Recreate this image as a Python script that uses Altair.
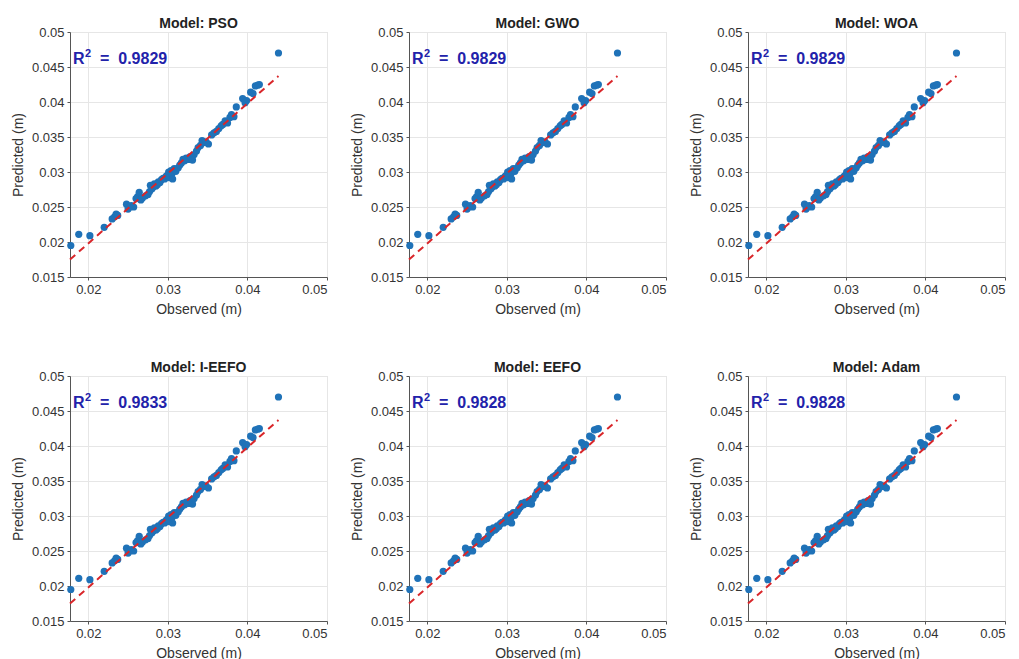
import altair as alt
import pandas as pd

models = ["PSO", "GWO", "WOA", "I-EEFO", "EEFO", "Adam"]
r2_values = [0.9829, 0.9829, 0.9829, 0.9833, 0.9828, 0.9828]

observed = [
    0.0178, 0.0188, 0.0202, 0.0220, 0.0230, 0.0233, 0.0235, 0.0237, 0.0248, 0.0250,
    0.0252, 0.0254, 0.0257, 0.0260, 0.0262, 0.0264, 0.0266, 0.0268, 0.0272, 0.0275,
    0.0277, 0.0278, 0.0280, 0.0282, 0.0283, 0.0285, 0.0287, 0.0288, 0.0290, 0.0292,
    0.0294, 0.0296, 0.0298, 0.0300, 0.0301, 0.0302, 0.0304, 0.0305, 0.0306, 0.0308,
    0.0310, 0.0313, 0.0315, 0.0317, 0.0319, 0.0321, 0.0323, 0.0326, 0.0328, 0.0331,
    0.0333, 0.0336, 0.0338, 0.0341, 0.0343, 0.0345, 0.0348, 0.0351, 0.0355, 0.0358,
    0.0361, 0.0364, 0.0367, 0.0369, 0.0372, 0.0375, 0.0378, 0.0380, 0.0383, 0.0386,
    0.0394, 0.0397, 0.0399, 0.0404, 0.0407, 0.0410, 0.0413, 0.0415, 0.0439,
]
predicted = [
    0.0195, 0.0211, 0.0209, 0.0221, 0.0233, 0.0236, 0.0240, 0.0238, 0.0254, 0.0247,
    0.0250, 0.0252, 0.0250, 0.0262, 0.0265, 0.0271, 0.0260, 0.0263, 0.0266, 0.0268,
    0.0272, 0.0281, 0.0276, 0.0279, 0.0283, 0.0280, 0.0282, 0.0286, 0.0285, 0.0289,
    0.0291, 0.0290, 0.0294, 0.0296, 0.0300, 0.0292, 0.0302, 0.0297, 0.0290, 0.0305,
    0.0301, 0.0306, 0.0310, 0.0313, 0.0318, 0.0316, 0.0320, 0.0318, 0.0322, 0.0317,
    0.0325, 0.0330, 0.0335, 0.0338, 0.0345, 0.0342, 0.0343, 0.0340, 0.0353, 0.0356,
    0.0358, 0.0362, 0.0366, 0.0368, 0.0373, 0.0370, 0.0378, 0.0382, 0.0379, 0.0393,
    0.0405, 0.0399, 0.0402, 0.0414, 0.0412, 0.0423, 0.0424, 0.0425, 0.0470,
]

line_x = [0.0177, 0.0439]
line_y = [0.0175, 0.0437]

x_domain = [0.0177, 0.05]
y_domain = [0.015, 0.05]
x_ticks = [0.02, 0.03, 0.04, 0.05]
y_ticks = [0.015, 0.02, 0.025, 0.03, 0.035, 0.04, 0.045, 0.05]

FONT = "Liberation Sans"
PW, PH = 257, 245
R2_COLOR = "#2222aa"


def panel(name, r2):
    pts = pd.DataFrame({"Observed": observed, "Predicted": predicted})
    ln = pd.DataFrame({"Observed": line_x, "Predicted": line_y})
    lab = pd.DataFrame({"r": ["R"], "sup": ["2"], "val": ["=\u00a0\u00a0" + f"{r2:.4f}"]})

    xenc = alt.X("Observed:Q",
                 scale=alt.Scale(domain=x_domain, nice=False, zero=False),
                 axis=alt.Axis(values=x_ticks, format="~g", title="Observed (m)", titlePadding=6))
    yenc = alt.Y("Predicted:Q",
                 scale=alt.Scale(domain=y_domain, nice=False, zero=False),
                 axis=alt.Axis(values=y_ticks, format="~g", title="Predicted (m)", titlePadding=6))

    points = alt.Chart(pts).mark_circle(size=52, color="#1f72b8", opacity=1).encode(x=xenc, y=yenc)
    line = alt.Chart(ln).mark_line(color="#d9262a", strokeWidth=2, strokeDash=[7, 5]).encode(x=xenc, y=yenc)
    base = alt.Chart(lab)
    t_r = base.mark_text(align="left", baseline="alphabetic", font=FONT, fontSize=16,
                         fontWeight="bold", color=R2_COLOR).encode(
        x=alt.value(3), y=alt.value(32), text="r:N")
    t_sup = base.mark_text(align="left", baseline="alphabetic", font=FONT, fontSize=11,
                           fontWeight="bold", color=R2_COLOR).encode(
        x=alt.value(15), y=alt.value(25), text="sup:N")
    t_val = base.mark_text(align="left", baseline="alphabetic", font=FONT, fontSize=16,
                           fontWeight="bold", color=R2_COLOR).encode(
        x=alt.value(30), y=alt.value(32), text="val:N")

    return alt.layer(points, line, t_r, t_sup, t_val).properties(
        width=PW, height=PH,
        title=alt.TitleParams("Model: " + name, font=FONT, fontSize=14, fontWeight="bold",
                              color="#222222", offset=-5),
    )


row1 = alt.hconcat(*[panel(m, r) for m, r in zip(models[:3], r2_values[:3])], spacing=21)
row2 = alt.hconcat(*[panel(m, r) for m, r in zip(models[3:], r2_values[3:])], spacing=21)

chart = alt.vconcat(row1, row2, spacing=43).properties(
    padding={"left": 2, "top": 8, "right": 0, "bottom": 0}
).configure(
    font=FONT
).configure_view(
    stroke="#d4d4d4", strokeWidth=1
).configure_axis(
    labelFont=FONT, labelFontSize=13, labelColor="#333333",
    titleFont=FONT, titleFontSize=14, titleColor="#333333", titleFontWeight="normal",
    gridColor="#e6e6e6", gridWidth=1, domainColor="#555555", domainWidth=1,
    tickColor="#555555", tickSize=3, labelPadding=3,
).configure_title(anchor="middle")

chart.save("out.html", embed_options={"renderer": "svg", "actions": False})
